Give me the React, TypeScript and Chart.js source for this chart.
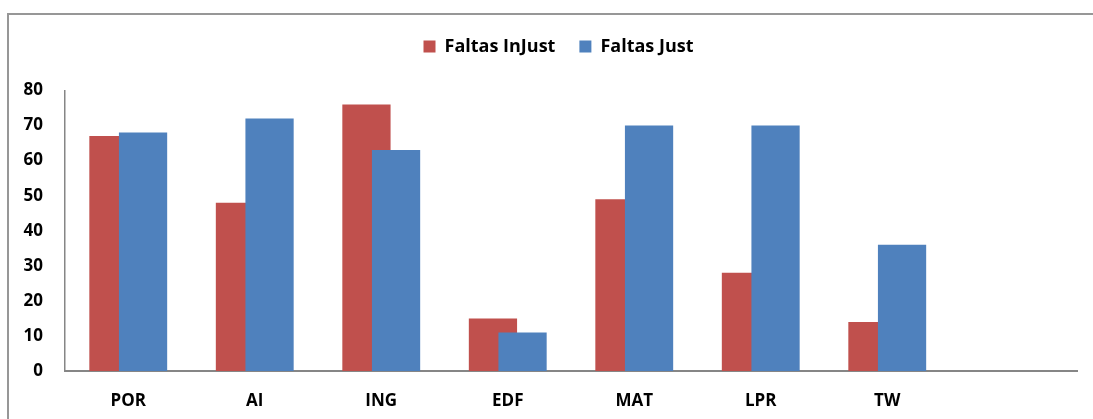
import React, { useEffect, useRef } from "react";
import { Chart, registerables } from "chart.js";

Chart.register(...registerables);

const categories = ["POR", "AI", "ING", "EDF", "MAT", "LPR", "TW", ""];
const faltasInJust = [67, 48, 76, 15, 49, 28, 14, null];
const faltasJust = [68, 72, 63, 11, 70, 70, 36, null];
const seriesNames = ["Faltas InJust", "Faltas Just"];
const yMin = 0;
const yMax = 80;
const yStep = 10;

const FONT = "'Open Sans', 'Liberation Sans', sans-serif";

// Draw datasets in index order so the later series sits on top (like Excel)
const drawInOrder = {
  id: "drawInOrder",
  beforeDatasetsDraw(chart: any) {
    for (let i = 0; i < chart.data.datasets.length; i++) {
      const meta = chart.getDatasetMeta(i);
      if (chart.isDatasetVisible(i)) meta.controller.draw();
    }
    return false;
  },
};

// Nudge the legend box to where the original places it
const legendOffset = {
  id: "legendOffset",
  afterLayout(chart: any, _args: any, opts: any) {
    const lg = chart.legend;
    if (!lg) return;
    const dx = opts.dx || 0;
    const dy = opts.dy || 0;
    lg.left += dx;
    lg.right += dx;
    lg.top += dy;
    lg.bottom += dy;
  },
};

export default function App() {
  const ref = useRef<HTMLCanvasElement | null>(null);

  useEffect(() => {
    if (!ref.current) return;
    const chart = new Chart(ref.current, {
      type: "bar",
      data: {
        labels: categories,
        datasets: [
          {
            label: seriesNames[0],
            data: faltasInJust,
            backgroundColor: "#C0504D",
            borderWidth: 0,
          },
          {
            label: seriesNames[1],
            data: faltasJust,
            backgroundColor: "#4F81BD",
            borderWidth: 0,
          },
        ],
      },
      options: {
        responsive: false,
        animation: false,
        devicePixelRatio: 1,
        categoryPercentage: 0.468,
        barPercentage: 1.63,
        layout: { padding: { left: 0, right: 16, top: 38.5, bottom: 0 } },
        plugins: {
          tooltip: { enabled: false },
          legendOffset: { dx: 20, dy: -25 },
          legend: {
            position: "top",
            labels: {
              boxWidth: 12,
              boxHeight: 12,
              padding: 24,
              color: "#000",
              font: { family: FONT, size: 18, weight: "bold" },
            },
          },
        } as any,
        scales: {
          x: {
            grid: { display: false, drawTicks: false },
            border: { display: true, color: "#868686", width: 2 },
            ticks: {
              color: "#000",
              padding: 20,
              font: { family: FONT, size: 17, weight: "bold" },
              maxRotation: 0,
            },
            afterFit: (s: any) => {
              s.height = 48;
            },
          },
          y: {
            min: yMin,
            max: yMax,
            grid: { display: false, drawTicks: false },
            border: { display: true, color: "#868686", width: 1.5 },
            ticks: {
              stepSize: yStep,
              color: "#000",
              padding: 22,
              font: { family: FONT, size: 17, weight: "bold" },
            },
            afterFit: (s: any) => {
              s.width = 65;
            },
          },
        },
      },
      plugins: [drawInOrder, legendOffset],
    });
    return () => chart.destroy();
  }, []);

  return (
    <div>
      <div
        style={{
          position: "absolute",
          left: 7,
          top: 13,
          width: 1100,
          height: 420,
          border: "2px solid #979797",
          boxSizing: "border-box",
        }}
      />
      <canvas
        ref={ref}
        width={1093}
        height={419}
        style={{ position: "absolute", left: 0, top: 0, display: "block" }}
      />
    </div>
  );
}
